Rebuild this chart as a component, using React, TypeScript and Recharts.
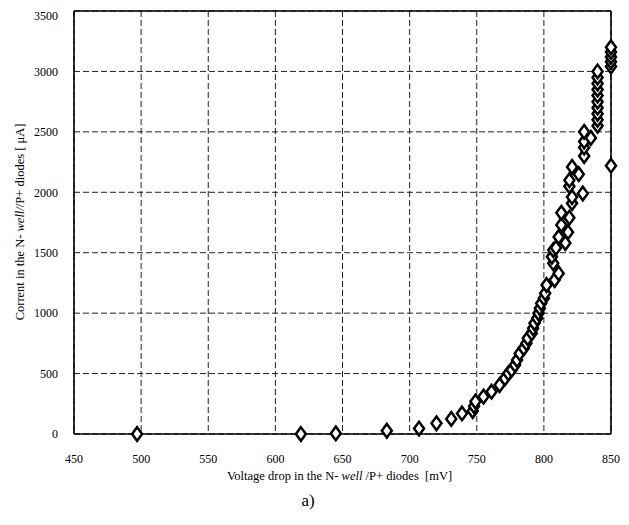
import React from "react";
import { ScatterChart, Scatter, XAxis, YAxis, CartesianGrid, ReferenceLine } from "recharts";

const voltageMv = [
  497, 619, 645, 683, 707, 720, 731, 739, 747, 748, 749, 755, 761, 767, 771, 773.5, 776, 778.5,
  780, 782, 785, 787, 788, 791, 792, 793, 795, 796, 797, 798, 800, 801, 802, 808, 811, 807, 806,
  807, 809, 816, 811, 818, 813, 819, 813, 821, 821, 829, 819, 819, 826, 821, 830, 830, 830, 835,
  830, 840, 840, 840, 840, 840, 840, 840, 840, 840, 840, 850, 850, 850, 850, 850, 850,
];
const currentUa = [
  0, 0, 5, 27, 45, 88, 125, 170, 190, 230, 268, 309, 350, 405, 460, 502, 530, 571,
  612, 667, 709, 750, 792, 833, 874, 916, 957, 999, 1040, 1081, 1123, 1164, 1233, 1274, 1329, 1412, 1467,
  1522, 1540, 1580, 1630, 1670, 1730, 1790, 1830, 1910, 1960, 1990, 2050, 2100, 2150, 2210, 2300, 2370, 2420, 2450,
  2500, 2550, 2600, 2650, 2700, 2750, 2800, 2850, 2900, 2950, 3000, 2220, 3040, 3080, 3120, 3160, 3200,
];
const xTicks = [450, 500, 550, 600, 650, 700, 750, 800, 850];
const yTicks = [0, 500, 1000, 1500, 2000, 2500, 3000, 3500];

const data = voltageMv.map((v, i) => ({ v, c: currentUa[i] }));

const FONT = "Liberation Serif, Times New Roman, serif";
const tickStyle = { fontFamily: FONT, fontSize: 12, fill: "#000" };

const Diamond = (props: any) => {
  const { cx, cy } = props;
  if (cx == null || cy == null) return null;
  const w = 5;
  const h = 6.8;
  return (
    <polygon
      points={`${cx},${cy - h} ${cx + w},${cy} ${cx},${cy + h} ${cx - w},${cy}`}
      fill="#fff"
      stroke="#000"
      strokeWidth={2.5}
    />
  );
};

const XTitle = (props: any) => {
  const vb = props.viewBox || { x: 66, y: 426, width: 537, height: 30 };
  const cx = vb.x + vb.width / 2 - 3;
  return (
    <g>
      <text x={cx} y={vb.y + 46} textAnchor="middle" fontFamily={FONT} fontSize={12.5} fill="#000">
        <tspan>Voltage drop in the N- </tspan>
        <tspan fontStyle="italic">well</tspan>
        <tspan>{" /P+ diodes \u00A0[mV]"}</tspan>
      </text>
      <text x={300} y={vb.y + 72} textAnchor="middle" fontFamily={FONT} fontSize={17} fill="#000">
        a)
      </text>
    </g>
  );
};

const YTitle = () => {
  const x = 12;
  const y = 214;
  return (
    <text
      x={x}
      y={y}
      dy="0.35em"
      textAnchor="middle"
      transform={`rotate(-90, ${x}, ${y})`}
      fontFamily={FONT}
      fontSize={12.5}
      fill="#000"
    >
      <tspan>Corrent in the N- </tspan>
      <tspan fontStyle="italic">well/</tspan>
      <tspan>{"/P+ diodes [ μA]"}</tspan>
    </text>
  );
};

export default function App() {
  return (
    <div style={{ width: 613, height: 509 }}>
      <ScatterChart
        width={613}
        height={509}
        margin={{ top: 3, right: 10, bottom: 53, left: 0 }}
      >
        <CartesianGrid stroke="#222" strokeDasharray="6 3" strokeWidth={1} />
        <XAxis
          type="number"
          dataKey="v"
          domain={[450, 850]}
          ticks={xTicks}
          tickLine={false}
          tickSize={0}
          tickMargin={20}
          height={30}
          tick={tickStyle}
          axisLine={{ stroke: "#000", strokeWidth: 1.6 }}
          label={<XTitle />}
        />
        <YAxis
          type="number"
          dataKey="c"
          domain={[0, 3500]}
          ticks={yTicks}
          tickLine={false}
          tickSize={0}
          tickMargin={16}
          width={66}
          tick={tickStyle}
          axisLine={{ stroke: "#000", strokeWidth: 1.6 }}
          label={<YTitle />}
        />
        <ReferenceLine y={3500} stroke="#000" strokeWidth={1.6} ifOverflow="visible" />
        <ReferenceLine x={850} stroke="#000" strokeWidth={1.6} ifOverflow="visible" />
        <Scatter data={data} shape={Diamond} isAnimationActive={false} />
      </ScatterChart>
    </div>
  );
}
